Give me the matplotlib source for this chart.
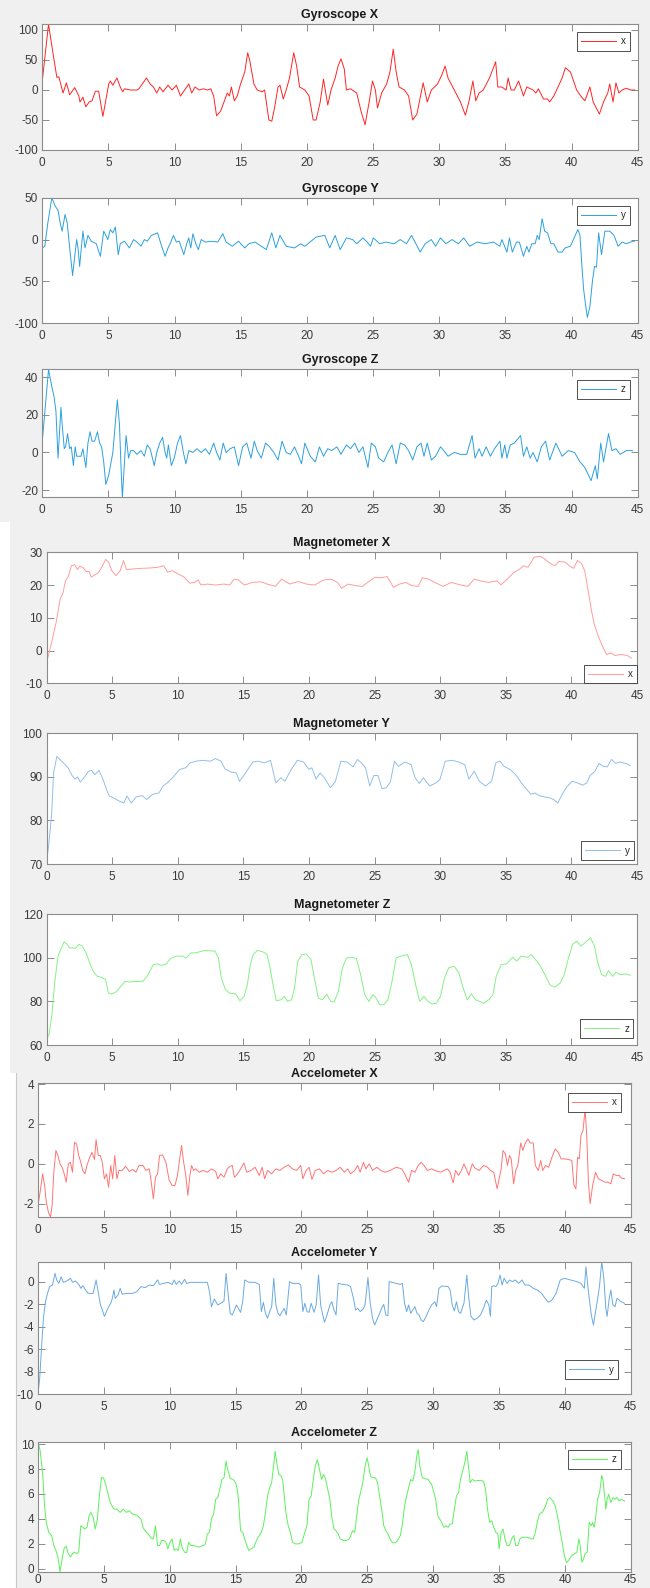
import matplotlib
matplotlib.use("Agg")
import matplotlib.pyplot as plt
from matplotlib.patches import Rectangle
from matplotlib.lines import Line2D

plt.rcParams['font.family'] = ['Liberation Sans', 'DejaVu Sans']
plt.rcParams['axes.unicode_minus'] = False

# ---------------- data (time s, value) ----------------
gyro_x = [(0.00,15),(0.47,110),(0.78,65),(1.10,21),(1.25,22),(1.57,-5),(1.82,12),(2.07,-8),(2.45,4),(2.76,-10),(2.85,-20),(3.07,-12),(3.29,-28),(3.54,-20),(3.76,-18),(4.01,-2),(4.26,-2),(4.58,-44),(5.02,10),(5.14,15),(5.33,8),(5.64,20),(5.89,5),(6.08,-3),(6.21,2),(6.68,0),(7.15,0),(7.30,2),(7.62,12),(7.87,20),(8.15,10),(8.40,5),(8.65,-5),(8.87,5),(9.12,-3),(9.50,8),(9.81,0),(10.13,8),(10.44,-10),(10.75,0),(11.07,10),(11.29,-5),(11.54,5),(11.85,0),(12.16,2),(12.48,0),(12.73,2),(12.95,-10),(13.17,-43),(13.48,-35),(13.73,-20),(13.98,-5),(14.14,-10),(14.29,5),(14.51,-18),(14.73,-10),(14.98,10),(15.30,30),(15.52,62),(15.67,50),(15.99,10),(16.24,0),(16.61,-3),(16.80,0),(17.12,-50),(17.34,-52),(17.55,-30),(17.81,5),(17.96,8),(18.21,-15),(18.43,0),(18.68,20),(19.00,62),(19.22,40),(19.44,5),(19.84,0),(20.16,-10),(20.47,-50),(20.69,-50),(21.00,-20),(21.25,18),(21.57,-25),(21.82,0),(22.13,20),(22.35,40),(22.57,52),(22.82,35),(22.98,0),(23.29,2),(23.76,-5),(24.08,-35),(24.39,-58),(24.70,-20),(24.95,15),(25.17,0),(25.33,-30),(25.64,-5),(26.02,10),(26.27,30),(26.52,68),(26.74,30),(26.96,5),(27.37,0),(27.68,-10),(27.99,-50),(28.31,-40),(28.78,12),(29.09,-20),(29.40,0),(29.87,10),(30.19,25),(30.44,40),(30.66,20),(31.13,0),(31.60,-20),(31.97,-42),(32.23,-20),(32.54,15),(32.76,-18),(33.01,-5),(33.32,0),(33.79,20),(34.26,47),(34.42,5),(34.73,5),(35.05,0),(35.20,20),(35.42,0),(35.67,0),(35.99,15),(36.36,-10),(36.61,5),(37.08,0),(37.30,-5),(37.49,2),(37.87,-15),(38.18,-15),(38.34,-20),(38.65,-10),(38.97,5),(39.28,20),(39.53,37),(39.91,30),(40.38,0),(40.69,-10),(41.00,-18),(41.38,5),(41.63,-20),(42.10,-40),(42.41,-20),(42.73,-5),(42.88,10),(43.13,-20),(43.35,12),(43.57,-5),(43.82,0),(44.14,3),(44.45,0),(44.76,0)]

gyro_y = [(0.00,-10),(0.19,-8),(0.42,20),(0.72,50),(0.97,40),(1.19,35),(1.35,20),(1.50,10),(1.72,30),(1.88,20),(2.07,-10),(2.29,-43),(2.45,-20),(2.60,0),(2.70,-10),(2.82,-32),(2.98,-5),(3.07,10),(3.23,-10),(3.45,5),(3.70,-2),(4.08,-5),(4.39,-20),(4.64,10),(4.80,5),(4.95,0),(5.14,12),(5.33,8),(5.52,15),(5.74,-18),(5.89,-5),(6.21,-2),(6.58,-10),(6.90,0),(7.15,-3),(7.46,-8),(7.71,0),(7.93,-2),(8.24,5),(8.71,8),(8.96,-5),(9.28,-20),(9.50,-10),(9.66,-5),(9.91,5),(10.13,-3),(10.35,-2),(10.69,-18),(10.91,-5),(11.07,2),(11.22,-10),(11.38,7),(11.60,-5),(11.79,-12),(12.01,0),(12.32,-3),(12.79,-2),(13.26,-3),(13.64,7),(13.89,-3),(14.36,-8),(14.83,-2),(15.30,-10),(15.61,-5),(16.08,-3),(16.55,-8),(16.93,-12),(17.34,8),(17.65,-10),(17.96,5),(18.43,-8),(19.06,-10),(19.53,-5),(19.84,-8),(20.69,3),(21.35,5),(21.72,-10),(22.13,5),(22.51,-12),(22.98,2),(23.45,0),(23.76,-5),(24.23,2),(24.55,-3),(24.80,-8),(25.02,2),(25.49,-5),(25.96,-3),(26.58,-5),(27.05,0),(27.52,-5),(27.90,5),(28.56,-15),(28.93,-5),(29.40,0),(29.72,-8),(30.09,2),(30.50,-5),(30.97,0),(31.44,-5),(31.85,2),(32.29,-8),(32.85,-3),(33.48,-5),(34.10,-3),(34.57,-8),(34.73,0),(35.11,-15),(35.30,2),(35.52,-15),(35.83,-3),(36.05,-3),(36.36,-20),(36.61,-8),(36.77,-15),(36.99,-5),(37.24,-5),(37.40,5),(37.55,0),(37.77,25),(37.96,10),(38.18,8),(38.43,-5),(38.65,-5),(38.97,-15),(39.28,-15),(39.50,-10),(39.91,-8),(40.47,12),(40.63,5),(40.79,-35),(40.91,-60),(41.07,-80),(41.19,-93),(41.38,-80),(41.57,-50),(41.73,-32),(41.88,-33),(42.04,8),(42.26,-18),(42.51,10),(42.88,10),(43.20,5),(43.51,-8),(43.82,-3),(44.14,-5),(44.61,-2),(44.76,-2)]

gyro_z = [(0.00,6),(0.47,44),(0.72,35),(0.88,30),(1.03,22),(1.19,-3),(1.41,24),(1.50,15),(1.66,2),(1.76,3),(1.91,10),(2.07,2),(2.19,3),(2.35,-7),(2.48,3),(2.60,-2),(2.92,-2),(3.07,2),(3.29,-8),(3.45,5),(3.61,11),(3.76,6),(3.95,6),(4.17,11),(4.33,5),(4.48,3),(4.64,-5),(4.80,-17),(5.02,-12),(5.20,-5),(5.33,0),(5.67,28),(5.83,15),(5.96,-10),(6.05,-24),(6.21,-5),(6.33,9),(6.52,-3),(6.68,1),(6.90,1),(7.15,-1),(7.46,1),(7.71,-2),(7.93,4),(8.15,2),(8.46,-7),(8.65,0),(8.87,5),(9.09,8),(9.28,0),(9.40,-3),(9.53,4),(9.75,-7),(9.97,-3),(10.22,5),(10.44,9),(10.66,0),(10.85,-6),(11.07,1),(11.38,0),(11.69,2),(12.01,0),(12.32,2),(12.63,-1),(12.95,5),(13.17,0),(13.42,-4),(13.67,5),(13.89,0),(14.20,2),(14.51,3),(14.83,-7),(15.14,3),(15.45,5),(15.77,-3),(16.02,6),(16.24,1),(16.55,-3),(16.87,5),(17.18,3),(17.49,0),(17.81,-4),(18.12,6),(18.43,0),(18.75,-1),(19.06,3),(19.37,-2),(19.59,-6),(19.84,5),(20.25,-2),(20.63,-5),(20.94,3),(21.25,-2),(21.57,2),(21.88,1),(22.26,3),(22.57,-1),(22.98,4),(23.29,2),(23.61,5),(23.92,0),(24.23,3),(24.61,-8),(24.86,5),(25.17,3),(25.42,-3),(25.80,-5),(26.11,0),(26.43,4),(26.74,-6),(27.05,5),(27.37,4),(27.68,1),(27.99,-4),(28.31,3),(28.62,5),(28.84,-2),(29.09,5),(29.40,-4),(29.72,-2),(30.09,3),(30.34,1),(30.66,-2),(31.13,0),(31.60,-1),(32.07,-1),(32.48,9),(32.70,-3),(33.01,2),(33.23,-2),(33.54,3),(33.86,-2),(34.17,2),(34.58,6),(34.73,-3),(34.95,4),(35.11,-3),(35.36,4),(35.67,5),(36.14,9),(36.36,-2),(36.61,3),(36.87,-3),(37.08,0),(37.40,-5),(37.71,3),(38.03,6),(38.34,-4),(38.81,5),(39.28,-2),(39.75,1),(40.22,0),(40.63,-5),(41.00,-8),(41.47,-15),(41.79,-7),(41.94,-14),(42.20,5),(42.41,-5),(42.79,10),(43.04,1),(43.35,2),(43.67,-1),(44.14,1),(44.61,1)]

mag_x = [(0.00,-3.8),(0.32,1.3),(0.73,8.5),(1.04,15.7),(1.26,17.7),(1.45,21.3),(1.67,22.7),(1.89,25.9),(2.15,26.2),(2.37,24.7),(2.52,25.7),(2.78,25.4),(3.03,24.1),(3.25,24.2),(3.41,22.4),(3.66,23.1),(3.94,23.7),(4.20,25.4),(4.51,27.8),(4.73,27.0),(4.98,24.4),(5.30,22.9),(5.62,24.4),(5.87,27.5),(6.09,24.7),(6.56,24.9),(7.19,25.1),(7.82,25.2),(8.45,25.4),(8.93,25.9),(9.24,23.9),(9.56,24.4),(10.03,23.4),(10.50,22.4),(10.91,20.6),(11.29,20.8),(11.55,21.6),(11.77,20.0),(12.24,20.3),(12.87,20.0),(13.50,20.3),(13.97,20.0),(14.29,21.8),(14.61,21.6),(15.08,20.0),(15.71,20.8),(16.34,21.0),(16.81,20.3),(17.44,19.6),(17.92,21.8),(18.55,20.3),(19.18,21.1),(19.81,20.3),(20.44,20.0),(21.07,21.5),(21.70,21.8),(22.18,20.8),(22.49,19.0),(22.97,20.3),(23.60,19.8),(24.07,19.6),(24.54,21.0),(25.02,22.4),(25.49,22.2),(25.96,22.6),(26.44,19.3),(26.91,20.3),(27.38,20.8),(27.85,19.8),(28.33,19.6),(28.64,22.2),(29.12,21.8),(29.59,20.8),(30.22,19.6),(30.85,20.8),(31.48,20.1),(32.11,19.6),(32.59,21.8),(33.06,21.3),(33.69,20.8),(34.32,21.3),(34.64,20.1),(35.11,21.8),(35.58,23.7),(36.06,24.9),(36.37,25.9),(36.69,25.4),(37.16,28.5),(37.63,28.8),(37.95,28.0),(38.42,26.5),(38.74,25.9),(39.05,27.2),(39.53,27.0),(39.84,25.9),(40.16,25.1),(40.47,27.5),(40.79,26.5),(41.01,24.4),(41.26,18.8),(41.51,12.6),(41.74,8.0),(42.05,4.4),(42.37,1.3),(42.68,-1.2),(43.00,-0.7),(43.31,-1.5),(43.79,-1.2),(44.26,-1.5),(44.57,-2.3)]

mag_y_t = [0, 0.16, 0.38, 0.54, 0.79, 1.01, 1.32, 1.64, 1.95, 2.17, 2.36, 2.58, 2.90, 3.21, 3.43, 3.68, 4.00, 4.31, 4.57, 4.79, 5.10, 5.57, 5.89, 6.14, 6.46, 6.83, 7.31, 7.62, 8.09, 8.57, 8.88, 9.20, 9.67, 10.14, 10.61, 10.93, 11.40, 11.87, 12.50, 12.88, 13.29, 13.61, 14.08, 14.46, 14.71, 15.02, 15.34, 15.72, 16.13, 16.60, 17.07, 17.48, 17.86, 18.17, 18.65, 19.12, 19.59, 20.00, 20.22, 20.54, 20.85, 21.17, 21.64, 22.02, 22.43, 22.90, 23.37, 23.69, 24.00, 24.31, 24.63, 24.94, 25.26, 25.57, 25.89, 26.20, 26.52, 26.83, 27.31, 27.78, 28.09, 28.41, 28.72, 29.20, 29.67, 29.98, 30.39, 30.93, 31.40, 31.87, 32.19, 32.60, 32.98, 33.45, 33.92, 34.24, 34.55, 34.87, 35.34, 35.81, 36.19, 36.60, 36.91, 37.23, 37.54, 37.95, 38.33, 38.65, 38.96, 39.34, 39.65, 40.06, 40.47, 40.85, 41.17, 41.42, 41.80, 42.11, 42.43, 42.74, 43.06, 43.37, 43.69, 44.16, 44.47]
mag_y_v = [70.2, 74.1, 81.0, 90.9, 94.7, 94.0, 93.1, 92.1, 90.3, 89.5, 90.0, 88.8, 90.0, 91.3, 91.5, 90.5, 91.5, 89.4, 87.1, 85.6, 85.2, 84.4, 84.0, 85.6, 84.0, 85.4, 85.7, 84.8, 86.0, 86.3, 87.9, 88.6, 90.0, 91.7, 92.1, 93.2, 93.6, 93.8, 93.6, 94.2, 93.6, 91.8, 91.1, 90.9, 89.0, 90.2, 91.7, 93.4, 93.6, 93.2, 93.8, 88.6, 89.8, 89.0, 91.7, 93.8, 93.4, 91.7, 92.1, 89.5, 90.9, 89.8, 87.5, 89.0, 93.6, 93.4, 92.3, 94.0, 93.2, 92.1, 87.9, 90.3, 90.3, 87.3, 87.5, 88.8, 93.6, 92.4, 93.4, 92.8, 89.8, 88.5, 89.8, 87.9, 88.6, 89.4, 93.6, 93.8, 93.4, 92.8, 89.5, 91.3, 89.0, 87.9, 89.0, 93.2, 93.6, 92.4, 91.7, 90.3, 88.6, 87.1, 86.0, 86.3, 85.7, 85.4, 85.2, 84.8, 84.0, 86.2, 87.7, 89.0, 88.6, 88.1, 88.6, 90.3, 91.3, 93.1, 92.4, 92.3, 94.0, 93.1, 93.4, 93.1, 92.6]

mag_z_t = [0.00,0.19,0.41,0.63,0.88,1.13,1.35,1.57,1.76,1.98,2.20,2.46,2.71,3.02,3.24,3.56,3.87,4.19,4.50,4.72,4.98,5.35,5.67,5.98,6.39,6.87,7.34,7.75,8.13,8.44,8.69,9.07,9.45,9.86,10.33,10.65,11.02,11.34,11.65,12.06,12.85,13.10,13.32,13.64,13.95,14.43,14.74,15.06,15.31,15.53,15.75,16.06,16.47,16.79,17.01,17.26,17.51,17.89,18.14,18.36,18.68,18.90,19.15,19.46,19.78,20.16,20.41,20.72,21.04,21.35,21.67,21.92,22.24,22.55,22.87,23.24,23.62,23.94,24.25,24.57,24.88,25.13,25.39,25.70,26.02,26.33,26.65,27.02,27.50,27.81,28.13,28.44,28.76,29.07,29.39,29.70,30.02,30.33,30.65,31.06,31.43,31.75,32.06,32.38,32.69,33.01,33.32,33.70,34.02,34.27,34.65,35.06,35.53,35.84,36.16,36.63,36.94,37.26,37.57,37.98,38.36,38.74,39.15,39.46,39.78,40.09,40.41,40.72,41.04,41.45,41.76,41.98,42.30,42.61,42.83,43.15,43.40,43.72,44.19,44.50]
mag_z_v = [63.1,64.6,73.8,89.2,100.8,104.6,107.4,106.2,104.6,104.6,104.3,106.2,105.4,102.3,98.5,93.8,91.5,91.1,90.0,83.8,83.4,84.6,86.9,89.2,88.9,89.2,89.2,92.3,96.9,97.2,96.6,96.9,99.7,100.8,100.8,100.0,102.3,102.3,102.8,103.4,103.1,100.0,90.8,85.4,83.8,83.4,80.3,82.3,87.7,96.9,101.5,103.4,102.8,101.8,96.2,87.7,80.3,80.8,82.3,80.0,80.8,86.2,98.5,101.5,101.8,99.2,90.8,81.5,80.8,83.4,80.0,79.7,84.6,95.4,100.0,100.3,99.7,92.3,83.1,80.0,83.1,81.5,78.5,78.5,80.8,89.2,100.0,100.8,101.5,96.9,87.7,80.0,82.3,80.0,78.8,79.2,82.3,90.8,95.4,96.2,93.1,86.2,80.8,83.4,80.8,80.0,79.2,80.8,83.1,91.5,96.9,97.2,100.3,98.5,100.8,100.3,101.5,99.2,96.9,92.3,87.7,86.5,88.5,92.3,100.0,106.2,107.7,105.4,106.9,109.2,105.4,98.5,92.3,91.5,94.2,91.5,93.5,92.3,92.6,92.0]

acc_x = [(0.00,-2.08),(0.16,-1.42),(0.35,-0.50),(0.50,-1.08),(0.63,-1.92),(0.79,-2.42),(0.95,-2.67),(1.07,-2.08),(1.20,-0.42),(1.36,0.67),(1.51,0.42),(1.67,0.0),(1.83,-0.17),(1.99,-0.50),(2.14,-0.92),(2.30,0.0),(2.46,0.08),(2.62,-0.42),(2.77,1.08),(2.93,1.0),(3.09,0.42),(3.25,0.08),(3.40,-0.33),(3.56,-0.50),(3.72,-0.08),(3.88,0.25),(4.10,0.58),(4.29,0.22),(4.41,1.22),(4.57,0.42),(4.73,0.42),(4.88,0.08),(5.04,-0.75),(5.20,-0.50),(5.36,-1.17),(5.52,-0.08),(5.67,-0.75),(5.83,0.42),(5.99,-0.75),(6.15,-0.33),(6.40,-0.33),(6.65,-0.12),(6.93,-0.38),(7.19,-0.28),(7.44,-0.42),(7.66,-0.08),(7.97,-0.08),(8.19,-0.33),(8.45,-0.25),(8.60,-0.92),(8.76,-1.75),(8.92,-0.67),(9.08,-0.50),(9.23,0.42),(9.45,0.45),(9.71,0.08),(9.96,-0.83),(10.18,-1.08),(10.40,-1.08),(10.59,-0.58),(10.72,0.08),(10.90,0.92),(11.06,0.08),(11.22,-0.58),(11.38,-1.58),(11.53,-0.58),(11.66,-0.08),(11.82,-0.33),(11.98,-0.25),(12.23,-0.42),(12.54,-0.33),(12.86,-0.42),(13.17,-0.25),(13.49,-0.38),(13.65,-0.75),(13.87,-0.50),(14.12,-0.67),(14.37,-0.25),(14.59,-0.12),(14.75,-0.08),(14.91,-0.67),(15.06,-0.58),(15.32,-0.33),(15.63,0.05),(15.85,-0.42),(16.17,-0.33),(16.48,-0.17),(16.80,-0.58),(17.02,-0.17),(17.21,-0.75),(17.43,-0.33),(17.74,-0.50),(18.06,-0.25),(18.37,-0.33),(18.69,-0.17),(19.00,-0.05),(19.32,-0.25),(19.63,-0.33),(19.95,-0.08),(20.11,-0.75),(20.36,-0.33),(20.58,-0.17),(20.80,-0.78),(21.05,-0.33),(21.37,-0.25),(21.68,-0.50),(22.00,-0.33),(22.31,-0.42),(22.63,-0.33),(22.94,-0.17),(23.26,-0.42),(23.51,-0.25),(23.73,-0.50),(24.05,-0.33),(24.27,-0.08),(24.46,-0.42),(24.71,0.08),(24.90,-0.25),(25.15,0.0),(25.40,-0.33),(25.72,-0.17),(26.03,-0.33),(26.35,-0.42),(26.73,-0.33),(27.20,-0.17),(27.61,-0.25),(27.83,-0.50),(28.14,-0.92),(28.36,-0.33),(28.62,-0.42),(28.87,-0.08),(29.09,0.08),(29.31,-0.08),(29.56,-0.33),(29.88,-0.25),(30.13,-0.33),(30.57,-0.42),(31.07,-0.25),(31.29,-0.42),(31.52,-0.95),(31.70,-0.33),(31.93,-0.58),(32.15,-0.33),(32.34,0.0),(32.56,-0.33),(32.71,-0.58),(32.97,0.0),(33.19,-0.22),(33.50,-0.33),(33.82,-0.08),(34.13,-0.17),(34.35,-0.33),(34.60,-0.42),(34.86,-1.25),(35.01,-0.75),(35.17,-0.25),(35.30,0.67),(35.49,0.50),(35.64,-0.08),(35.80,0.42),(35.93,0.25),(36.11,-1.0),(36.27,-0.33),(36.43,-0.08),(36.65,1.05),(36.81,0.67),(36.97,1.0),(37.19,1.25),(37.38,1.05),(37.60,1.05),(37.76,-0.08),(37.98,-0.33),(38.17,0.17),(38.32,-0.33),(38.54,-0.08),(38.77,-0.17),(39.02,0.33),(39.27,0.75),(39.49,0.58),(39.72,0.25),(39.96,0.25),(40.28,0.22),(40.53,0.17),(40.69,-1.08),(40.84,-1.25),(40.97,0.33),(41.10,0.25),(41.22,1.42),(41.38,1.67),(41.54,2.75),(41.66,1.42),(41.79,-0.92),(41.92,-2.0),(42.11,-1.08),(42.33,-0.42),(42.55,-0.75),(42.80,-0.83),(43.05,-0.92),(43.27,-0.92),(43.49,-1.0),(43.68,-0.50),(43.90,-0.58),(44.12,-0.58),(44.31,-0.72),(44.53,-0.75)]

acc_y = [(0.00,-9.91),(0.13,-8.58),(0.25,-6.21),(0.41,-3.25),(0.57,-1.78),(0.72,-1.04),(0.88,-0.44),(1.10,-0.30),(1.29,0.74),(1.42,0.15),(1.58,-0.15),(1.76,0.44),(1.92,-0.06),(2.08,0.0),(2.30,0.15),(2.46,0.30),(2.62,-0.06),(2.84,0.06),(3.09,-0.24),(3.25,-0.59),(3.40,-0.36),(3.62,-0.74),(3.81,-1.04),(4.03,-1.04),(4.19,-1.04),(4.41,0.15),(4.57,-0.89),(4.73,-2.01),(4.88,-2.51),(5.04,-3.08),(5.20,-2.66),(5.36,-2.22),(5.52,-1.92),(5.61,-1.63),(5.77,-0.74),(5.86,-1.48),(6.08,-1.18),(6.24,-0.59),(6.40,-1.12),(6.71,-1.04),(7.19,-1.04),(7.50,-0.89),(7.82,-0.44),(8.13,-0.53),(8.45,-0.30),(8.76,-0.36),(9.08,0.15),(9.23,-0.24),(9.55,-0.15),(9.86,-0.06),(10.18,-0.24),(10.34,0.15),(10.49,-0.24),(10.72,0.06),(10.90,-0.24),(11.13,0.21),(11.28,-0.15),(11.60,-0.06),(12.23,-0.06),(12.86,-0.06),(13.02,-0.89),(13.17,-2.22),(13.39,-1.54),(13.65,-2.07),(13.87,-1.92),(14.12,-1.72),(14.28,0.74),(14.43,-1.04),(14.59,-2.81),(14.75,-2.96),(14.91,-2.51),(15.06,-2.07),(15.22,-2.37),(15.38,-2.73),(15.54,-1.78),(15.69,0.15),(16.01,-0.06),(16.48,-0.06),(16.80,-0.24),(16.96,-2.66),(17.11,-1.83),(17.27,-2.81),(17.43,-3.25),(17.59,-2.66),(17.74,-2.22),(17.90,0.30),(18.06,-2.07),(18.22,-2.81),(18.37,-3.02),(18.53,-2.66),(18.69,-2.37),(18.85,-2.96),(19.10,0.0),(19.32,-0.15),(19.79,-0.15),(19.95,-0.30),(20.11,-2.66),(20.26,-1.92),(20.42,-2.66),(20.58,-2.72),(20.74,-1.92),(20.96,-2.72),(21.12,-2.07),(21.30,0.59),(21.46,-2.07),(21.62,-2.96),(21.75,-3.61),(21.93,-3.02),(22.16,-2.07),(22.31,-1.78),(22.47,-2.51),(22.63,-2.96),(22.79,-0.15),(23.10,-0.24),(23.51,-0.30),(23.73,-0.44),(23.95,-1.48),(24.11,-2.51),(24.27,-2.37),(24.46,-2.66),(24.68,-2.43),(24.83,-2.07),(25.05,0.36),(25.21,-1.78),(25.40,-3.25),(25.56,-3.85),(25.72,-3.40),(25.94,-2.81),(26.09,-2.37),(26.25,-2.01),(26.41,-2.96),(26.57,-3.02),(26.66,0.0),(26.88,-0.06),(27.20,-0.15),(27.51,-0.24),(27.67,-0.15),(27.83,-1.92),(27.99,-2.66),(28.14,-2.07),(28.30,-2.81),(28.46,-2.51),(28.62,-2.22),(28.77,-2.81),(28.93,-2.96),(29.09,-3.40),(29.25,-3.55),(29.40,-3.25),(29.62,-2.66),(29.88,-2.07),(30.13,-1.78),(30.26,-2.22),(30.44,-0.59),(30.66,-0.38),(31.14,-0.44),(31.29,-0.74),(31.45,-2.07),(31.61,-2.60),(31.77,-1.78),(31.93,-2.66),(32.08,-2.81),(32.34,-1.92),(32.56,0.59),(32.71,-1.48),(32.87,-3.08),(33.09,-3.40),(33.34,-3.25),(33.60,-2.96),(33.82,-2.37),(34.04,-1.63),(34.23,-2.07),(34.35,-3.08),(34.45,-0.44),(34.60,-0.36),(34.76,-0.44),(34.92,-0.15),(35.08,0.59),(35.24,-0.30),(35.39,0.30),(35.61,-0.15),(35.80,0.15),(36.02,0.0),(36.24,0.15),(36.50,-0.15),(36.75,0.15),(36.97,-0.30),(37.28,-0.30),(37.60,-0.59),(37.91,-0.74),(38.23,-1.04),(38.54,-1.54),(38.76,-1.83),(39.02,-1.63),(39.33,-1.04),(39.65,0.15),(39.96,0.30),(40.43,0.15),(40.91,0.0),(41.22,-0.15),(41.48,-0.59),(41.60,1.33),(41.79,-0.89),(42.01,-2.96),(42.17,-3.85),(42.33,-2.66),(42.48,-1.63),(42.64,-0.30),(42.80,1.78),(42.96,0.30),(43.11,-2.37),(43.21,-3.08),(43.37,-1.48),(43.49,-0.74),(43.65,-2.07),(43.81,-2.22),(43.96,-1.48),(44.12,-1.63),(44.28,-1.78),(44.53,-1.92)]

acc_z = [(0.00,10.2),(0.16,9.5),(0.35,7.7),(0.50,5.0),(0.63,3.7),(0.82,2.9),(1.04,2.65),(1.20,1.85),(1.36,1.46),(1.51,0.93),(1.67,-0.25),(1.83,0.80),(1.99,1.65),(2.14,1.81),(2.30,1.20),(2.46,0.93),(2.62,1.20),(2.77,1.33),(2.93,1.20),(3.09,1.33),(3.25,3.45),(3.40,3.32),(3.56,3.19),(3.72,3.32),(3.88,4.25),(4.03,4.52),(4.19,4.12),(4.35,3.19),(4.51,3.98),(4.66,5.86),(4.82,7.33),(4.98,7.28),(5.14,6.77),(5.29,6.11),(5.45,5.44),(5.61,5.05),(5.77,4.78),(5.99,4.78),(6.24,4.52),(6.46,4.78),(6.71,4.52),(6.93,4.65),(7.19,4.38),(7.50,4.30),(7.82,3.98),(7.97,3.32),(8.13,3.05),(8.38,2.79),(8.60,2.44),(8.76,2.39),(8.92,3.45),(9.08,1.86),(9.23,1.86),(9.39,2.26),(9.55,2.26),(9.71,2.12),(9.86,1.59),(10.02,2.12),(10.18,2.39),(10.34,1.46),(10.49,1.59),(10.65,1.46),(10.81,2.39),(10.97,1.59),(11.13,1.33),(11.28,1.27),(11.44,2.12),(11.60,1.86),(11.76,1.86),(11.98,1.81),(12.23,1.73),(12.54,1.86),(12.70,1.99),(12.86,2.79),(13.02,2.92),(13.17,3.98),(13.33,4.38),(13.49,5.58),(13.65,5.71),(13.80,6.37),(13.96,7.17),(14.12,7.30),(14.28,8.63),(14.37,8.10),(14.59,7.25),(14.81,7.17),(15.00,6.91),(15.13,6.37),(15.22,5.58),(15.38,3.05),(15.54,2.92),(15.69,2.39),(15.85,1.86),(16.01,1.46),(16.17,1.59),(16.39,1.73),(16.64,2.39),(16.80,2.66),(16.96,2.92),(17.11,3.45),(17.27,4.52),(17.43,5.84),(17.59,6.51),(17.74,6.91),(17.90,8.37),(18.00,9.43),(18.15,8.37),(18.28,7.57),(18.47,7.44),(18.59,7.04),(18.72,5.58),(18.85,4.25),(19.00,3.45),(19.16,2.92),(19.32,2.12),(19.54,1.99),(19.79,1.99),(20.04,2.12),(20.26,2.92),(20.42,3.45),(20.58,5.58),(20.74,5.84),(20.90,7.17),(21.05,8.23),(21.21,8.76),(21.37,7.97),(21.53,7.17),(21.68,7.57),(21.84,7.17),(22.00,6.37),(22.16,5.58),(22.31,4.12),(22.47,3.19),(22.63,3.05),(22.79,2.79),(22.94,2.39),(23.20,2.26),(23.42,2.26),(23.64,2.39),(23.89,3.05),(24.05,2.92),(24.20,4.25),(24.36,5.58),(24.52,6.24),(24.68,7.04),(24.83,8.23),(24.99,8.90),(25.09,8.37),(25.24,7.44),(25.40,7.30),(25.62,7.30),(25.78,6.91),(25.94,5.84),(26.09,4.78),(26.25,3.45),(26.41,3.05),(26.57,2.79),(26.73,2.39),(26.88,2.12),(27.04,2.07),(27.20,2.12),(27.36,2.39),(27.51,2.66),(27.67,3.59),(27.83,5.05),(27.99,5.84),(28.14,6.51),(28.30,7.17),(28.46,7.04),(28.62,7.84),(28.77,9.16),(28.87,9.56),(28.99,8.23),(29.18,7.30),(29.40,7.22),(29.62,7.17),(29.88,6.77),(30.03,6.24),(30.19,5.58),(30.35,4.25),(30.51,3.98),(30.66,3.67),(30.82,3.32),(30.98,3.45),(31.14,3.32),(31.29,3.59),(31.45,3.59),(31.61,4.78),(31.77,5.84),(31.93,6.11),(32.08,7.17),(32.24,7.84),(32.40,8.50),(32.56,9.43),(32.65,8.50),(32.81,6.91),(32.97,7.17),(33.19,7.04),(33.50,7.09),(33.82,7.04),(33.98,6.37),(34.13,4.78),(34.29,3.72),(34.45,3.85),(34.60,3.32),(34.76,2.92),(34.92,2.79),(35.01,1.59),(35.17,2.92),(35.30,3.19),(35.46,2.39),(35.61,1.86),(35.80,1.86),(35.96,2.39),(36.12,2.66),(36.27,1.86),(36.43,1.86),(36.59,2.39),(36.75,2.52),(36.97,2.52),(37.19,2.52),(37.44,2.39),(37.60,2.39),(37.76,2.92),(37.91,3.72),(38.07,4.38),(38.32,4.56),(38.54,5.05),(38.70,5.58),(38.86,5.71),(39.08,5.44),(39.27,5.05),(39.49,3.98),(39.65,2.92),(39.80,2.12),(39.96,1.06),(40.12,0.48),(40.28,0.66),(40.43,0.93),(40.59,1.12),(40.75,1.20),(40.91,1.33),(41.07,2.39),(41.16,1.86),(41.29,0.53),(41.38,0.66),(41.54,1.20),(41.70,1.33),(41.85,3.72),(42.01,3.45),(42.11,3.72),(42.23,3.32),(42.33,3.98),(42.48,5.58),(42.64,6.11),(42.80,7.49),(42.89,7.17),(43.05,5.58),(43.11,4.78),(43.21,5.58),(43.33,5.98),(43.49,5.31),(43.65,5.71),(43.81,5.58),(43.96,5.71),(44.12,5.44),(44.28,5.58),(44.53,5.44)]

x_ticks = [0, 5, 10, 15, 20, 25, 30, 35, 40, 45]

# ---------------- figure ----------------
W, H = 650, 1588
fig = plt.figure(figsize=(W / 100, H / 100), dpi=100, facecolor='#f0f0f0')

# white notches on the left of the lower two figure blocks
fig.patches.append(Rectangle((0, 1 - 1073 / H), 10 / W, (1073 - 522) / H,
                             transform=fig.transFigure, facecolor='white', edgecolor='none', zorder=0))
fig.patches.append(Rectangle((0, 0), 15.5 / W, (H - 1073) / H,
                             transform=fig.transFigure, facecolor='white', edgecolor='none', zorder=0))
fig.lines.append(Line2D([15.8 / W, 15.8 / W], [0, 1 - 1073 / H], transform=fig.transFigure,
                        color='#c8c8c8', lw=0.8))


def rect(l, r, t, b):
    return [l / W, 1 - b / H, (r - l) / W, (b - t) / H]


def split(pairs):
    return [p[0] for p in pairs], [p[1] for p in pairs]


panels = [
    dict(title='Gyroscope X', data=split(gyro_x), color='#ff2424', label='x',
         ylim=(-100, 110), yticks=[-100, -50, 0, 50, 100], box=(42.3, 637.8, 24, 150),
         loc='upper right', anchor=(0.987, 0.937)),
    dict(title='Gyroscope Y', data=split(gyro_y), color='#2ba1de', label='y',
         ylim=(-100, 50), yticks=[-100, -50, 0, 50], box=(42.3, 637.8, 197.7, 323.3),
         loc='upper right', anchor=(0.987, 0.934)),
    dict(title='Gyroscope Z', data=split(gyro_z), color='#2ba1de', label='z',
         ylim=(-23.5, 44.2), yticks=[-20, 0, 20, 40], box=(42.3, 637.8, 369.3, 496.7),
         loc='upper right', anchor=(0.987, 0.916)),
    dict(title='Magnetometer X', data=split(mag_x), color='#ff9c9c', label='x',
         ylim=(-10, 30), yticks=[-10, 0, 10, 20, 30], box=(46.5, 637.0, 552.3, 683.3),
         loc='lower right', anchor=(1.0, 0.0)),
    dict(title='Magnetometer Y', data=(mag_y_t, mag_y_v), color='#92bfe9', label='y',
         ylim=(70, 100), yticks=[70, 80, 90, 100], box=(46.5, 637.0, 733.3, 864),
         loc='lower right', anchor=(0.995, 0.03)),
    dict(title='Magnetometer Z', data=(mag_z_t, mag_z_v), color='#86f086', label='z',
         ylim=(60, 120), yticks=[60, 80, 100, 120], box=(46.5, 637.0, 914.3, 1045),
         loc='lower right', anchor=(0.994, 0.053)),
    dict(title='Accelometer X', data=split(acc_x), color='#ff7474', label='x',
         ylim=(-2.65, 4.07), yticks=[-2, 0, 2, 4], box=(38, 630.7, 1082.7, 1216.7),
         loc='upper right', anchor=(0.984, 0.923)),
    dict(title='Accelometer Y', data=split(acc_y), color='#6aaae2', label='y',
         ylim=(-10, 1.72), yticks=[-10, -8, -6, -4, -2, 0], box=(38, 630.7, 1262.3, 1394.3),
         loc='lower right', anchor=(0.979, 0.116)),
    dict(title='Accelometer Z', data=split(acc_z), color='#5cf05c', label='z',
         ylim=(-0.27, 10.2), yticks=[0, 2, 4, 6, 8, 10], box=(38, 630.7, 1441.7, 1572.0),
         loc='upper right', anchor=(0.984, 0.937)),
]

for i, p in enumerate(panels):
    ax = fig.add_axes(rect(*p['box']))
    ax.set_facecolor('white')
    t, v = p['data']
    ax.plot(t, v, color=p['color'], lw=0.7, label=p['label'])
    ax.set_xlim(0, 45)
    ax.set_ylim(*p['ylim'])
    ax.set_xticks(x_ticks)
    ax.set_yticks(p['yticks'])
    for s in ax.spines.values():
        s.set_color('#8c8c8c')
        s.set_linewidth(0.8)
    ax.tick_params(direction='in', length=5, width=0.7, colors='#8c8c8c',
                   labelcolor='#3a3a3a', labelsize=8.5, top=True, right=True)
    ax.tick_params(axis='x', pad=5 if i < len(panels) - 1 else 1.5)
    ax.tick_params(axis='y', pad=3)
    ax.annotate(p['title'], xy=(0.5, 1), xycoords='axes fraction', xytext=(0, 6.5),
                textcoords='offset points', ha='center', va='center',
                fontsize=9, fontweight='bold', color='#1a1a1a')
    leg = ax.legend(loc=p['loc'], bbox_to_anchor=p['anchor'], borderaxespad=0,
                    fontsize=7, handlelength=3.6, handletextpad=0.5, borderpad=0.45,
                    fancybox=False, framealpha=1, edgecolor='#333333')
    leg.get_frame().set_linewidth(0.6)
    for txt in leg.get_texts():
        txt.set_color('#262626')

fig.savefig('out.png', dpi=100, facecolor=fig.get_facecolor())
